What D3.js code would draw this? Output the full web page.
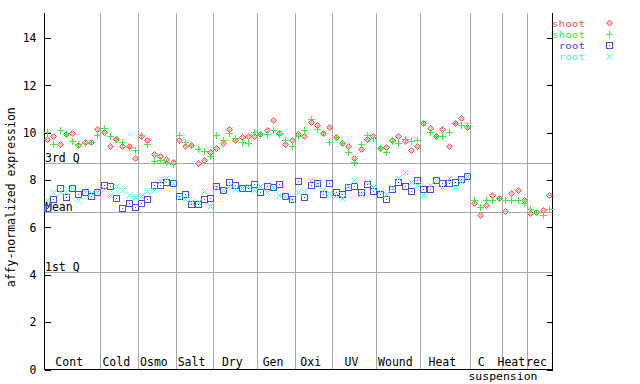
<!DOCTYPE html>
<html>
<head>
<meta charset="utf-8">
<script src="https://cdn.jsdelivr.net/npm/d3@7/dist/d3.min.js"></script>
<style>
  html, body { margin: 0; padding: 0; background: #fff; }
  svg { display: block; }
  text { font-family: "DejaVu Sans Mono", monospace; font-size: 11.5px; }
</style>
</head>
<body>
<svg id="chart" width="640" height="384"></svg>
<script>
// ---- data ----
const groupLabels = ["Cont", "Cold", "Osmo", "Salt", "Dry", "Gen", "Oxi", "UV", "Wound", "Heat", "C\nsuspension", "Heat", "rec"];
const groupSizes  = [9, 6, 6, 6, 7, 6, 6, 7, 7, 8, 5, 4, 4];

const shootRep1 = [
  9.74, 9.88, 9.54, 9.96, 9.99, 9.48, 9.62, 9.60, 10.17,
  10.02, 9.46, 9.74, 9.43, 9.46, 8.93,
  9.88, 9.71, 9.10, 9.00, 8.90, 8.75,
  9.71, 9.46, 9.48, 8.72, 8.86, 9.20,
  9.37, 9.57, 10.16, 9.68, 9.82, 9.85, 9.85,
  9.96, 10.10, 10.55, 9.99, 9.54, 9.68,
  9.96, 9.88, 10.44, 10.33, 9.99, 10.24,
  9.82, 9.57, 9.46, 8.95, 9.31, 9.74, 9.88,
  9.37, 9.40, 9.71, 9.88, 9.65, 9.26, 9.46,
  10.41, 10.19, 9.88, 10.16, 9.46, 10.41, 10.64, 10.24,
  7.03, 6.52, 6.95, 7.37, 7.26,
  6.69, 7.45, 7.57, 7.17,
  6.61, 6.66, 6.72, 7.37
];
const shootRep2 = [
  10.02, 9.51, 10.13, 9.93, 9.65, 9.54, 9.57, 9.60, 9.91,
  10.20, 9.85, 9.74, 9.63, 9.40, 9.26,
  9.91, 9.51, 8.82, 8.85, 8.78, 8.69,
  9.91, 9.60, 9.48, 9.31, 9.23, 9.00,
  9.91, 9.71, 9.99, 9.79, 9.62, 9.57, 10.02,
  9.96, 9.96, 10.13, 9.96, 9.71, 9.46,
  9.85, 10.13, 10.58, 10.16, 9.99, 9.62,
  9.82, 9.57, 9.20, 8.75, 9.54, 9.91, 9.79,
  9.37, 9.20, 9.65, 9.57, 9.74, 9.65, 9.71,
  10.41, 10.02, 9.88, 9.88, 10.05, 10.41, 10.33, 10.30,
  7.17, 6.86, 7.14, 7.17, 7.26,
  7.14, 7.17, 7.17, 7.03,
  6.78, 6.66, 6.52, 6.78
];
const rootRep1 = [
  6.82, 7.20, 7.67, 7.28, 7.65, 7.43, 7.48, 7.31, 7.51,
  7.81, 7.76, 7.23, 6.82, 7.03, 6.86,
  7.05, 7.20, 7.79, 7.79, 7.93, 7.88,
  7.34, 7.43, 7.00, 7.00, 7.20, 7.26,
  7.76, 7.59, 7.93, 7.79, 7.68, 7.65, 7.85,
  7.51, 7.74, 7.71, 7.85, 7.34, 7.20,
  7.96, 7.28, 7.79, 7.88, 7.40, 7.88,
  7.51, 7.40, 7.71, 7.74, 7.48, 7.85, 7.54,
  7.43, 7.20, 7.62, 7.93, 7.74, 7.54, 7.99,
  7.62, 7.62, 8.02, 7.88, 7.88, 7.93, 8.05, 8.16
];
const rootRep2 = [
  7.14, 7.48, 7.48, 7.48, 7.65, 7.17, 7.48, 7.45, 7.51,
  7.64, 7.38, 7.74, 7.57, 7.37, 7.28,
  7.34, 7.54, 7.57, 7.96, 8.10, 7.88,
  7.28, 7.20, 7.06, 7.06, 7.54, 6.89,
  7.71, 7.57, 7.74, 7.62, 7.65, 7.76, 7.59,
  7.76, 7.51, 7.71, 7.37, 7.34, 7.14,
  7.51, 7.54, 7.99, 7.85, 7.57, 7.45,
  7.37, 7.23, 7.74, 7.99, 7.43, 7.93, 7.71,
  7.54, 7.40, 7.71, 8.10, 8.36, 7.93, 7.79,
  7.37, 7.79, 8.02, 7.71, 8.10, 7.71, 7.96, 8.16
];

const refLabels = ["3rd Q", "Mean", "1st Q"];
const refValues = [8.72, 6.65, 4.12];
const yTickValues = [0, 2, 4, 6, 8, 10, 12, 14];
const legendLabels = ["shoot", "shoot", "root", "root"];
const yTitle = "affy-normalized expression";

// ---- layout / style ----
const colors = ["#ff5050", "#40f040", "#4848ff", "#50f0f0"];
const shapes = ["diamond", "plus", "square", "cross"];
const seriesList = [shootRep1, shootRep2, rootRep1, rootRep2];

const pLeft = 44, pRight = 552, pTop = 13, pBottom = 369.5;
const nSamples = d3.sum(groupSizes);

const svg = d3.select("#chart");
svg.append("rect").attr("width", 640).attr("height", 384).attr("fill", "#fff");

const x = d3.scaleLinear().domain([0, nSamples]).range([pLeft, pRight]);
const y = d3.scaleLinear().domain([0, 15.06]).range([pBottom, pTop]);

const px = v => Math.round(v) + 0.5;

// group boundaries
const bounds = [];
let acc = 0;
groupSizes.forEach(s => { bounds.push([acc, acc + s]); acc += s; });

// separators
svg.append("g").selectAll("line").data(bounds.slice(0, -1)).join("line")
  .attr("x1", d => px(x(d[1]))).attr("x2", d => px(x(d[1])))
  .attr("y1", pTop).attr("y2", pBottom)
  .attr("stroke", "#a8a8a8").attr("stroke-width", 1).attr("shape-rendering", "crispEdges");

// reference lines
const refG = svg.append("g");
refValues.forEach((v, i) => {
  refG.append("line")
    .attr("x1", pLeft).attr("x2", pRight)
    .attr("y1", px(y(v))).attr("y2", px(y(v)))
    .attr("stroke", "#a8a8a8").attr("stroke-width", 1).attr("shape-rendering", "crispEdges");
  refG.append("text")
    .attr("x", pLeft + 1).attr("y", Math.round(y(v)) - 1)
    .attr("fill", "#000").text(refLabels[i]);
});

// axes
const yAxisL = d3.axisLeft(y).tickValues(yTickValues).tickSize(-6).tickSizeOuter(0).tickPadding(8).tickFormat(d3.format("d"));
const gL = svg.append("g").attr("transform", `translate(${pLeft + 0.5},0)`).call(yAxisL);
gL.select(".domain").remove();
gL.selectAll("line").attr("stroke", "#000").attr("shape-rendering", "crispEdges");
gL.selectAll("text").attr("fill", "#000").style("font-family", "DejaVu Sans Mono, monospace").style("font-size", "11.5px");

const yAxisR = d3.axisRight(y).tickValues(yTickValues).tickSize(-6).tickSizeOuter(0).tickFormat("");
const gR = svg.append("g").attr("transform", `translate(${pRight + 0.5},0)`).call(yAxisR);
gR.select(".domain").remove();
gR.selectAll("line").attr("stroke", "#000").attr("shape-rendering", "crispEdges");

// axis lines
svg.append("line").attr("x1", pLeft + 0.5).attr("x2", pLeft + 0.5).attr("y1", pTop).attr("y2", pBottom + 0.5)
  .attr("stroke", "#000").attr("shape-rendering", "crispEdges");
svg.append("line").attr("x1", pRight + 0.5).attr("x2", pRight + 0.5).attr("y1", pTop).attr("y2", pBottom + 0.5)
  .attr("stroke", "#000").attr("shape-rendering", "crispEdges");
svg.append("line").attr("x1", pLeft).attr("x2", pRight + 1).attr("y1", pBottom).attr("y2", pBottom)
  .attr("stroke", "#000").attr("shape-rendering", "crispEdges");

// y title
svg.append("text")
  .attr("transform", `translate(15,${(pTop + pBottom) / 2 + 6}) rotate(-90)`)
  .attr("text-anchor", "middle").attr("fill", "#000").text(yTitle);

// group labels
const glG = svg.append("g");
bounds.forEach((b, i) => {
  const lines = groupLabels[i].split("\n");
  const cx = (x(b[0]) + x(b[1])) / 2 - 3;
  glG.append("text").attr("x", lines.length > 1 ? cx - 2 : cx).attr("y", 366)
    .attr("text-anchor", "middle").attr("fill", "#000").text(lines[0]);
  if (lines.length > 1) {
    glG.append("text").attr("x", x(b[0]) - 2).attr("y", 379.5)
      .attr("text-anchor", "start").attr("fill", "#000")
      .style("font-size", "10px")
      .attr("textLength", lines[1].length * 6.9).attr("lengthAdjust", "spacingAndGlyphs")
      .text(lines[1]);
  }
});

// marker drawing
function drawMarker(g, shape, cx, cy, color) {
  if (shape === "diamond") {
    g.append("path").attr("d", `M${cx},${cy - 3}L${cx + 3},${cy}L${cx},${cy + 3}L${cx - 3},${cy}Z`)
      .attr("fill", "#ffc0c0").attr("stroke", color).attr("stroke-width", 1);
  } else if (shape === "plus") {
    g.append("path").attr("d", `M${cx - 3.5},${cy}H${cx + 3.5}M${cx},${cy - 3.5}V${cy + 3.5}`)
      .attr("stroke", color).attr("stroke-width", 1.1).attr("fill", "none");
  } else if (shape === "square") {
    g.append("rect").attr("x", cx - 3).attr("y", cy - 3).attr("width", 6).attr("height", 6)
      .attr("fill", "none").attr("stroke", color).attr("stroke-width", 1).attr("shape-rendering", "crispEdges");
    g.append("rect").attr("x", cx - 0.5).attr("y", cy - 0.5).attr("width", 1).attr("height", 1)
      .attr("fill", color).attr("shape-rendering", "crispEdges");
  } else {
    g.append("path").attr("d", `M${cx - 3},${cy - 3}L${cx + 3},${cy + 3}M${cx - 3},${cy + 3}L${cx + 3},${cy - 3}`)
      .attr("stroke", color).attr("stroke-width", 1).attr("fill", "none");
  }
}

// points
seriesList.forEach((vals, s) => {
  const g = svg.append("g");
  vals.forEach((v, i) => {
    if (v == null) return;
    drawMarker(g, shapes[s], px(x(i + 0.5)), px(y(v)), colors[s]);
  });
});

// legend
const lg = svg.append("g");
legendLabels.forEach((lab, i) => {
  const by = 26.5 + i * 11.2;
  lg.append("text").attr("x", 585).attr("y", by).attr("text-anchor", "end")
    .style("font-size", "9.2px")
    .attr("textLength", lab.length * 6.7 - 0.5).attr("lengthAdjust", "spacingAndGlyphs")
    .attr("fill", colors[i]).text(lab);
  drawMarker(lg, shapes[i], 609.5, by - 3.5, colors[i]);
});
</script>
</body>
</html>
